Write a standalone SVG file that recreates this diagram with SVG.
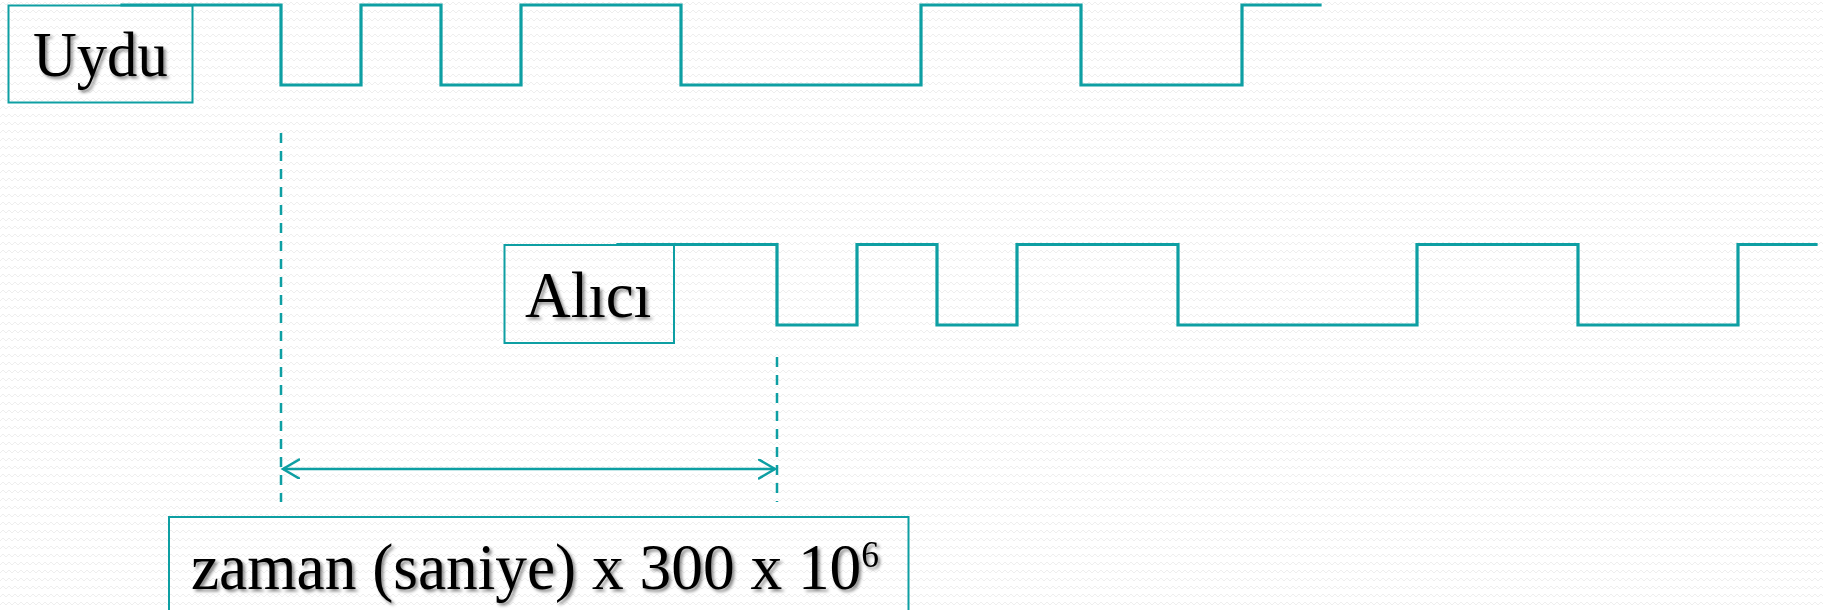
<svg xmlns="http://www.w3.org/2000/svg" width="1823" height="610" viewBox="0 0 1823 610">
<style>
.sig{fill:none;stroke:#0E9FA3;stroke-width:3.2;stroke-linejoin:miter;stroke-linecap:square}
.box{fill:none;stroke:#0E9FA3;stroke-width:2}
.dash{fill:none;stroke:#0E9FA3;stroke-width:2.5;stroke-dasharray:10 8}
.arr{fill:none;stroke:#0E9FA3;stroke-width:2.5}
.lbl{font-family:"Liberation Serif","Times New Roman",serif;fill:#000;filter:url(#sh)}
</style>
<defs>
<pattern id="bg" width="6" height="8" patternUnits="userSpaceOnUse">
<path d="M0 5 L3 2 L6 5" fill="none" stroke="#eeeeee" stroke-width="1"/>
</pattern>
<filter id="sh" x="-10%" y="-20%" width="130%" height="150%">
<feDropShadow dx="2.5" dy="2.5" stdDeviation="1.5" flood-color="#000" flood-opacity="0.45"/>
</filter>
<marker id="ah" markerWidth="20" markerHeight="24" refX="17" refY="10" orient="auto-start-reverse" markerUnits="userSpaceOnUse" viewBox="0 0 20 24">
<path d="M0 0 L17 10 L0 20" fill="none" stroke="#0E9FA3" stroke-width="2.5"/>
</marker>
</defs>
<rect width="1823" height="610" fill="#fff"/>
<rect width="1823" height="610" fill="url(#bg)"/>
<g id="uydu">
<rect class="box" x="8.5" y="5.5" width="184" height="97"/>
<text class="lbl" transform="translate(33,76) scale(0.955,1)" x="0" y="0" font-size="63.5">Uydu</text>
</g>
<g id="alici">
<rect class="box" x="504.5" y="245" width="169.5" height="98"/>
<text class="lbl" transform="translate(525,317) scale(0.98,1)" x="0" y="0" font-size="64.5">Alıcı</text>
</g>
<g id="formul">
<rect class="box" x="169" y="517" width="739.5" height="110"/>
<text class="lbl" transform="translate(191,589) scale(0.96,1)" x="0" y="0" font-size="66">zaman (saniye) x 300 x 10<tspan font-size="37" dy="-22">6</tspan></text>
</g>
<g id="connectors">
<path id="sinyal-uydu" class="sig" d="M122 5 H281 V85 H361 V5 H441 V85 H521 V5 H681 V85 H921 V5 H1081 V85 H1242 V5 H1320"/>
<path id="sinyal-alici" class="sig" d="M618 244.5 H777 V325 H857 V244.5 H937 V325 H1017 V244.5 H1178 V325 H1417 V244.5 H1578 V325 H1738 V244.5 H1816"/>
<line class="dash" x1="281" y1="133" x2="281" y2="502"/>
<line class="dash" x1="777" y1="357" x2="777" y2="502"/>
<line class="arr" x1="283" y1="469" x2="775" y2="469" marker-start="url(#ah)" marker-end="url(#ah)"/>
</g>
</svg>
